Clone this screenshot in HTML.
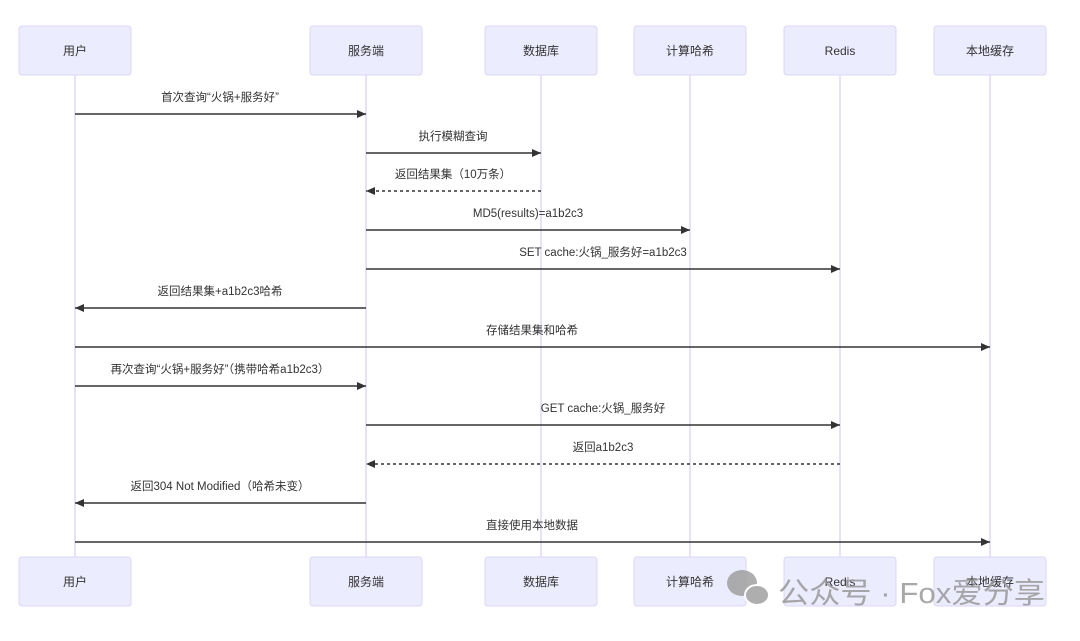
<!DOCTYPE html>
<html><head><meta charset="utf-8"><style>
body{margin:0;background:#fff;width:1080px;height:636px;overflow:hidden}
</style></head><body>
<svg width="1080" height="636" xmlns="http://www.w3.org/2000/svg" font-family="'Liberation Sans','Noto Sans CJK SC',sans-serif">
<defs><marker id="a" markerUnits="userSpaceOnUse" markerWidth="9" markerHeight="8" refX="9" refY="4" orient="auto"><path d="M0,0L9,4L0,8z" fill="#333"/></marker></defs>
<g stroke="#d9cff5" stroke-width="1.2">
<line x1="75" y1="75" x2="75" y2="557"/><line x1="366" y1="75" x2="366" y2="557"/><line x1="541" y1="75" x2="541" y2="557"/><line x1="690" y1="75" x2="690" y2="557"/><line x1="840" y1="75" x2="840" y2="557"/><line x1="990" y1="75" x2="990" y2="557"/>
</g>
<g fill="#ececff" stroke="#dcd6f7">
<rect x="19" y="26" width="112" height="49" rx="3"/><rect x="310" y="26" width="112" height="49" rx="3"/><rect x="485" y="26" width="112" height="49" rx="3"/><rect x="634" y="26" width="112" height="49" rx="3"/><rect x="784" y="26" width="112" height="49" rx="3"/><rect x="934" y="26" width="112" height="49" rx="3"/>
<rect x="19" y="557" width="112" height="49" rx="3"/><rect x="310" y="557" width="112" height="49" rx="3"/><rect x="485" y="557" width="112" height="49" rx="3"/><rect x="634" y="557" width="112" height="49" rx="3"/><rect x="784" y="557" width="112" height="49" rx="3"/><rect x="934" y="557" width="112" height="49" rx="3"/>
</g>
<g font-size="12" text-anchor="middle" fill="#333">
<text x="75" y="55">用户</text><text x="366" y="55">服务端</text><text x="541" y="55">数据库</text><text x="690" y="55">计算哈希</text><text x="840" y="55">Redis</text><text x="990" y="55">本地缓存</text>
<text x="75" y="586">用户</text><text x="366" y="586">服务端</text><text x="541" y="586">数据库</text><text x="690" y="586">计算哈希</text><text x="840" y="586">Redis</text><text x="990" y="586">本地缓存</text>
</g>
<g stroke="#333" stroke-width="1.5" marker-end="url(#a)">
<line x1="75" y1="114" x2="366" y2="114"/>
<line x1="366" y1="153" x2="541" y2="153"/>
<line x1="541" y1="191" x2="366" y2="191" stroke-dasharray="3,3"/>
<line x1="366" y1="230" x2="690" y2="230"/>
<line x1="366" y1="269" x2="840" y2="269"/>
<line x1="366" y1="308" x2="75" y2="308"/>
<line x1="75" y1="347" x2="990" y2="347"/>
<line x1="75" y1="386" x2="366" y2="386"/>
<line x1="366" y1="425" x2="840" y2="425"/>
<line x1="840" y1="464" x2="366" y2="464" stroke-dasharray="3,3"/>
<line x1="366" y1="503" x2="75" y2="503"/>
<line x1="75" y1="542" x2="990" y2="542"/>
</g>
<g font-size="11.5" text-anchor="middle" fill="#333">
<text x="220" y="101">首次查询“火锅+服务好”</text>
<text x="453" y="140">执行模糊查询</text>
<text x="453" y="178">返回结果集（10万条）</text>
<text x="528" y="217">MD5(results)=a1b2c3</text>
<text x="603" y="256">SET cache:火锅_服务好=a1b2c3</text>
<text x="220" y="295">返回结果集+a1b2c3哈希</text>
<text x="532" y="334">存储结果集和哈希</text>
<text x="220" y="373">再次查询“火锅+服务好”（携带哈希a1b2c3）</text>
<text x="603" y="412">GET cache:火锅_服务好</text>
<text x="603" y="451">返回a1b2c3</text>
<text x="220" y="490">返回304 Not Modified（哈希未变）</text>
<text x="532" y="529">直接使用本地数据</text>
</g>
<g fill="#a0a0a0" opacity="0.85">
<ellipse cx="742" cy="583" rx="15" ry="13"/><ellipse cx="757" cy="595" rx="12" ry="10" stroke="#fff" stroke-width="2"/>
</g>
<text x="778" y="603" font-size="29" fill="#999" opacity="0.85" textLength="267" lengthAdjust="spacingAndGlyphs">公众号 · Fox爱分享</text>
</svg>
</body></html>
